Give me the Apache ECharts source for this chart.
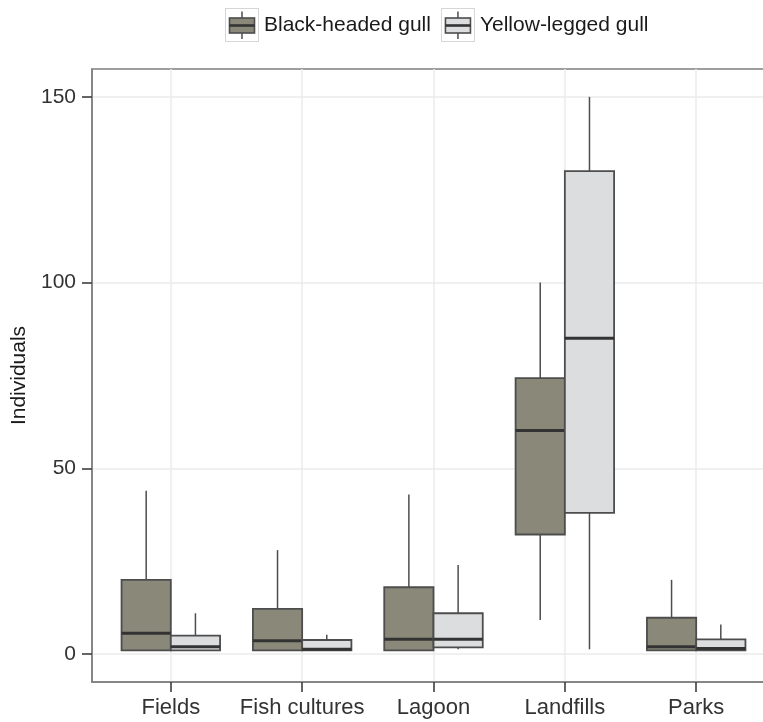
<!DOCTYPE html>
<html>
<head>
<meta charset="utf-8">
<script src="https://cdn.jsdelivr.net/npm/echarts@6/dist/echarts.min.js"></script>
<style>
  html, body { margin: 0; padding: 0; background: #ffffff; }
  #chart { width: 763px; height: 722px; }
</style>
</head>
<body>
<div id="chart"></div>
<script>
// Habitat categories on the x axis
const categories = ['Fields', 'Fish cultures', 'Lagoon', 'Landfills', 'Parks'];

// Five-number summaries per habitat: [lower whisker, Q1, median, Q3, upper whisker]
const blackHeadedGull = [
  [1, 1, 5.6, 20, 44],
  [1, 1, 3.6, 12.2, 28],
  [1, 1, 4, 18, 43],
  [9.2, 32.2, 60.2, 74.3, 100],
  [1, 1, 2, 9.8, 20]
];
const yellowLeggedGull = [
  [1, 1, 2, 5, 11],
  [1, 1, 1.3, 3.8, 5.2],
  [1.3, 1.8, 4, 11, 24],
  [1.3, 38, 85, 130, 150],
  [1, 1, 1.5, 4, 8]
];

// Axis ticks and panel limits
const yTicks = [0, 50, 100, 150];
const xTicks = [1, 2, 3, 4, 5];
const yLimits = [-7.5, 157.5];
const xLimits = [0.4, 5.6];

const seriesNames = ['Black-headed gull', 'Yellow-legged gull'];
const fills = ['#8a8878', '#dcdddf'];
const boxStroke = '#4d4d4d';
const medianStroke = '#333333';
const panelBorder = '#7f7f7f';
const dodge = 0.1875;   // half of a box width in category units
const boxWidth = 0.375;

const FONT = '"Liberation Sans", Arial, sans-serif';

// Legend key glyph: a small boxplot inside a framed square
function keyIcon(fill) {
  const svg =
    '<svg xmlns="http://www.w3.org/2000/svg" width="34" height="34" viewBox="0 0 34 34">' +
    '<rect x="0.5" y="0.5" width="33" height="33" fill="#ffffff" stroke="#d6d6d6" stroke-width="1"/>' +
    '<line x1="17" y1="3.5" x2="17" y2="10" stroke="' + boxStroke + '" stroke-width="1.5"/>' +
    '<line x1="17" y1="25" x2="17" y2="31" stroke="' + boxStroke + '" stroke-width="1.5"/>' +
    '<rect x="4.5" y="10" width="25" height="15" fill="' + fill + '" stroke="' + boxStroke + '" stroke-width="1.6"/>' +
    '<line x1="4.5" y1="17.5" x2="29.5" y2="17.5" stroke="' + medianStroke + '" stroke-width="2.6"/>' +
    '</svg>';
  return 'image://data:image/svg+xml;charset=utf-8,' + encodeURIComponent(svg);
}

function toData(stats, offset) {
  return stats.map((s, i) => [i + 1 + offset].concat(s));
}

function renderBox(fill) {
  return function (params, api) {
    const x = api.value(0);
    const lo = api.coord([x, api.value(1)]);
    const q1 = api.coord([x, api.value(2)]);
    const med = api.coord([x, api.value(3)]);
    const q3 = api.coord([x, api.value(4)]);
    const hi = api.coord([x, api.value(5)]);
    const w = api.size([boxWidth, 0])[0];
    const cx = med[0];
    const left = cx - w / 2;
    return {
      type: 'group',
      children: [
        { type: 'line', shape: { x1: cx, y1: hi[1], x2: cx, y2: q3[1] },
          style: { stroke: boxStroke, lineWidth: 1.5 } },
        { type: 'line', shape: { x1: cx, y1: q1[1], x2: cx, y2: lo[1] },
          style: { stroke: boxStroke, lineWidth: 1.5 } },
        { type: 'rect', shape: { x: left, y: q3[1], width: w, height: q1[1] - q3[1] },
          style: { fill: fill, stroke: boxStroke, lineWidth: 1.8 } },
        { type: 'line', shape: { x1: left, y1: med[1], x2: left + w, y2: med[1] },
          style: { stroke: medianStroke, lineWidth: 3 } }
      ]
    };
  };
}

const chart = echarts.init(document.getElementById('chart'), null, { renderer: 'canvas' });

chart.setOption({
  animation: false,
  backgroundColor: '#ffffff',
  textStyle: { fontFamily: FONT },
  legend: {
    left: 225,
    top: 8,
    padding: 0,
    itemWidth: 34,
    itemHeight: 34,
    itemGap: 10,
    textStyle: { fontSize: 21, color: '#1a1a1a', fontFamily: FONT },
    data: [
      { name: seriesNames[0], icon: keyIcon(fills[0]) },
      { name: seriesNames[1], icon: keyIcon(fills[1]) }
    ]
  },
  grid: {
    left: 92,
    top: 69,
    width: 683,
    height: 613,
    show: true,
    backgroundColor: 'transparent',
    borderColor: panelBorder,
    borderWidth: 1.5,
    outerBoundsMode: 'none',
    containLabel: false
  },
  xAxis: {
    type: 'value',
    min: xLimits[0],
    max: xLimits[1],
    axisLine: { show: true, onZero: false, lineStyle: { color: panelBorder, width: 1.5 } },
    axisTick: {
      show: true, length: 10, customValues: xTicks,
      lineStyle: { color: '#333333', width: 1.5 }
    },
    axisLabel: {
      customValues: xTicks,
      margin: 15,
      fontSize: 22,
      color: '#333333',
      fontFamily: FONT,
      formatter: v => categories[Math.round(v) - 1] || ''
    },
    splitLine: { show: true, lineStyle: { color: '#ebebeb', width: 1.5 } }
  },
  yAxis: {
    type: 'value',
    min: yLimits[0],
    max: yLimits[1],
    name: 'Individuals',
    nameLocation: 'middle',
    nameRotate: 90,
    nameGap: 57,
    nameTextStyle: { fontSize: 21, color: '#1a1a1a', fontFamily: FONT },
    axisLine: { show: true, onZero: false, lineStyle: { color: panelBorder, width: 1.5 } },
    axisTick: {
      show: true, length: 10, customValues: yTicks,
      lineStyle: { color: '#333333', width: 1.5 }
    },
    axisLabel: {
      customValues: yTicks,
      margin: 16,
      fontSize: 21,
      color: '#333333',
      fontFamily: FONT
    },
    splitLine: { show: true, lineStyle: { color: '#ebebeb', width: 1.5 } }
  },
  series: [
    {
      name: seriesNames[0],
      type: 'custom',
      z: 3,
      renderItem: renderBox(fills[0]),
      encode: { x: 0, y: [1, 2, 3, 4, 5] },
      itemStyle: { color: fills[0] },
      data: toData(blackHeadedGull, -dodge)
    },
    {
      name: seriesNames[1],
      type: 'custom',
      z: 3,
      renderItem: renderBox(fills[1]),
      encode: { x: 0, y: [1, 2, 3, 4, 5] },
      itemStyle: { color: fills[1] },
      data: toData(yellowLeggedGull, dodge)
    }
  ]
});
</script>
</body>
</html>
